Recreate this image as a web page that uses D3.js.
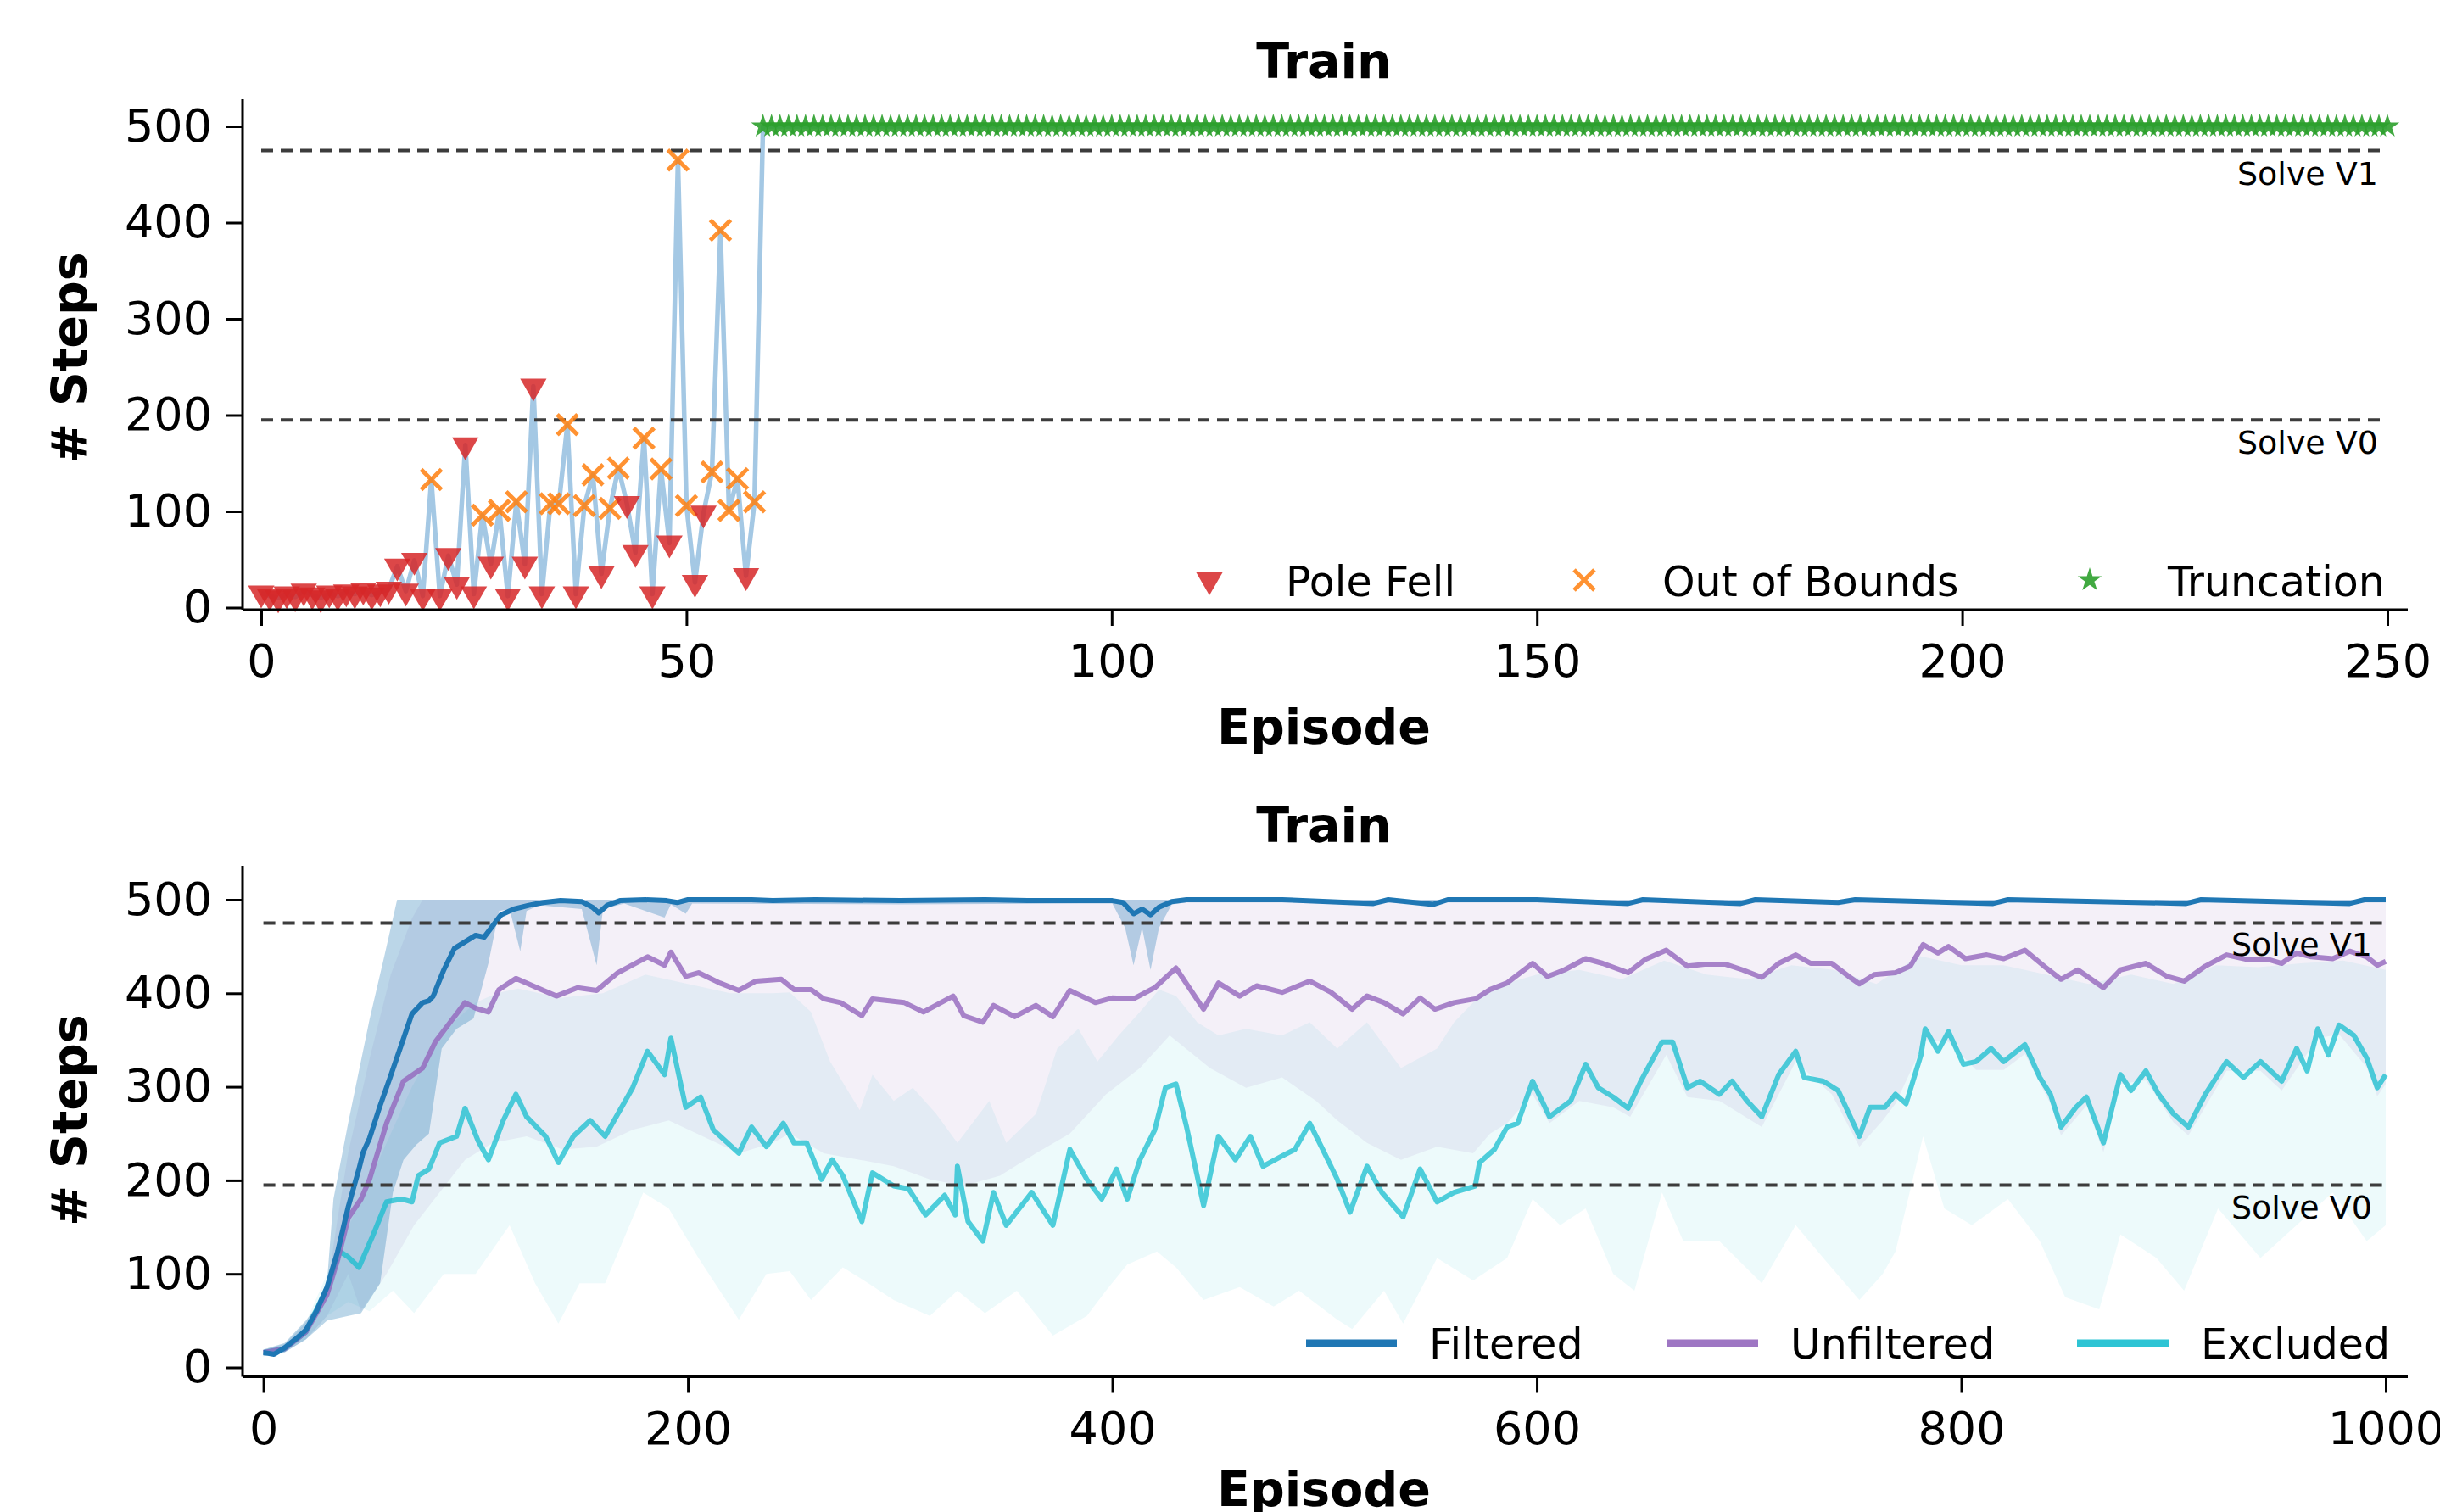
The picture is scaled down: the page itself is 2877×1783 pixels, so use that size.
<!DOCTYPE html>
<html>
<head>
<meta charset="utf-8">
<script src="https://cdn.jsdelivr.net/npm/d3@7"></script>
<style>
  body { margin: 0; background: #fff; }
  svg { display: block; }
  text { font-family: "DejaVu Sans", sans-serif; fill: #000; }
</style>
</head>
<body>
<svg id="chart" width="2877" height="1783"></svg>
<script>
// ---- top panel: one training run, steps per episode ----
var earlySteps = [15,12,10,14,11,17,13,10,15,12,16,14,18,13,16,19,
  43,17,49,12,133,12,54,24,169,14,96,45,101,12,110,45,230,14,108,108,190,14,106,138,
  35,103,145,108,57,176,14,144,67,465,106,26,98,141,392,101,134,33,110];
// P = pole fell, O = out of bounds
var earlyOutcome = ("PPPPPPPPPPPPPPPP" + "PPPP" + "OPPPPPOPOP" + "OPPPOOOPOO" +
  "POOPPOPOPO" + "OPPOOOOPO").split("");
var truncFirst = 59, lastEpisode = 250, truncSteps = 500;

var solveLines = [{v: 475, label: "Solve V1"}, {v: 195, label: "Solve V0"}];
var topXTicks = [0, 50, 100, 150, 200, 250];
var yTicks = [0, 100, 200, 300, 400, 500];
var botXTicks = [0, 200, 400, 600, 800, 1000];

// ---- bottom panel: [episode, steps] ----
var filteredMean = [[0,16],[5,14],[10,21],[15,30],[20,40],[25,60],[30,86],[35,124],[40,172],[45,212],[47,230],[50,245],[55,280],[60,312],[65,345],[70,378],[75,390],[78,392],[80,397],[85,425],[90,448],[95,455],[100,462],[104,460],[108,472],[112,484],[118,490],[125,494],[132,497],[140,499],[150,498],[155,492],[158,486],[162,494],[168,499],[180,500],[190,499],[195,497],[200,500],[230,500],[240,499],[260,500],[300,499],[340,500],[360,499],[400,499],[405,497],[410,485],[414,490],[418,484],[422,492],[428,498],[435,500],[480,500],[523,496],[530,500],[551,495],[558,500],[600,500],[643,496],[650,500],[696,496],[703,500],[742,497],[750,500],[815,496],[822,500],[906,496],[913,500],[983,496],[990,500],[1000,500]];
var filteredLow = [[0,12],[10,16],[20,30],[30,50],[40,55],[46,58],[55,90],[61,187],[66,222],[72,238],[78,250],[84,341],[91,362],[99,373],[106,432],[111,488],[116,490],[121,445],[124,488],[130,494],[150,490],[157,430],[160,490],[170,496],[189,481],[192,495],[199,485],[202,496],[300,495],[400,496],[406,470],[410,430],[414,470],[418,425],[422,470],[428,495],[435,497],[1000,497]];
var filteredHigh = [[0,19],[10,26],[20,50],[25,65],[30,92],[33,180],[40,262],[50,372],[57,440],[63,500],[1000,500]];

var unfilteredMean = [[0,16],[10,20],[20,38],[30,78],[35,115],[40,160],[46,180],[50,201],[58,261],[66,306],[75,320],[81,348],[88,369],[95,390],[100,384],[106,380],[111,404],[119,416],[129,406],[138,397],[148,406],[157,403],[167,422],[181,439],[189,430],[192,444],[199,418],[205,422],[215,411],[224,403],[232,413],[244,415],[250,404],[258,404],[264,394],[272,390],[282,376],[287,394],[302,390],[311,380],[325,397],[330,376],[339,369],[344,387],[354,375],[364,387],[372,375],[380,403],[392,390],[400,395],[410,394],[420,406],[430,427],[443,383],[450,411],[460,397],[468,408],[480,401],[493,413],[503,401],[513,383],[520,397],[528,390],[537,378],[545,395],[552,383],[561,390],[571,394],[578,404],[586,411],[598,432],[605,418],[613,425],[623,437],[631,432],[643,422],[651,436],[661,446],[671,429],[679,431],[689,431],[697,425],[706,417],[714,432],[722,441],[729,432],[739,432],[747,418],[752,410],[759,420],[769,422],[776,429],[782,452],[789,443],[794,450],[802,437],[812,441],[820,437],[830,446],[839,429],[847,415],[855,425],[867,406],[875,425],[887,432],[897,418],[905,413],[915,429],[925,441],[935,436],[945,436],[951,432],[958,443],[965,439],[975,437],[983,445],[991,439],[996,430],[1000,434]];
var unfilteredLow = [[0,12],[10,16],[20,30],[30,55],[40,100],[46,60],[58,100],[71,152],[83,187],[95,222],[108,240],[124,247],[141,233],[157,236],[174,254],[191,264],[207,247],[224,229],[240,240],[248,250],[264,229],[281,222],[297,215],[314,201],[330,194],[347,205],[364,229],[380,250],[397,292],[413,320],[427,355],[446,320],[463,299],[480,310],[496,285],[506,264],[520,240],[536,222],[553,236],[570,229],[578,250],[586,261],[598,292],[606,261],[620,285],[636,278],[644,268],[661,334],[671,289],[686,285],[706,257],[722,327],[739,292],[752,236],[763,264],[769,282],[783,350],[794,348],[807,318],[820,318],[830,335],[842,282],[847,248],[859,280],[867,230],[875,303],[887,307],[900,262],[907,248],[925,317],[941,317],[951,296],[968,352],[978,356],[991,321],[996,290],[1000,303]];
var unfilteredHigh = [[0,19],[10,25],[20,48],[30,85],[35,160],[40,230],[50,330],[60,420],[70,480],[75,500],[1000,500]];

var excludedMean = [[0,16],[10,20],[20,38],[30,85],[36,124],[40,118],[45,107],[51,138],[58,177],[65,180],[70,177],[73,205],[78,212],[83,240],[91,247],[95,277],[101,243],[106,222],[113,264],[119,292],[124,268],[133,247],[139,219],[146,247],[154,264],[161,247],[167,271],[174,299],[181,338],[189,313],[192,352],[199,278],[206,289],[212,254],[224,229],[230,257],[237,236],[245,261],[250,240],[256,240],[263,201],[268,222],[273,205],[282,156],[287,208],[297,194],[304,191],[312,163],[321,184],[326,163],[327,215],[332,156],[339,135],[344,187],[350,152],[362,187],[372,152],[380,233],[388,201],[395,180],[402,212],[407,180],[413,222],[420,254],[425,299],[430,303],[435,257],[443,173],[450,247],[458,222],[465,247],[471,215],[480,226],[486,233],[493,261],[500,229],[506,201],[512,166],[520,215],[527,187],[537,161],[545,212],[553,177],[561,187],[571,194],[573,219],[580,233],[586,257],[591,261],[598,306],[606,268],[616,285],[623,324],[629,299],[636,289],[643,277],[649,306],[659,348],[664,348],[671,299],[677,306],[686,292],[692,306],[699,285],[706,268],[714,313],[722,338],[726,310],[735,306],[742,296],[752,247],[757,278],[764,278],[769,292],[774,282],[781,334],[783,362],[789,338],[794,359],[801,324],[807,327],[814,341],[820,327],[830,345],[837,310],[842,292],[847,257],[854,278],[859,289],[867,240],[875,313],[880,296],[887,317],[893,292],[900,271],[907,257],[915,292],[925,327],[933,310],[941,327],[951,306],[958,341],[963,317],[968,362],[973,334],[978,366],[985,355],[991,331],[996,299],[1000,313]];
var excludedLow = [[0,12],[10,16],[20,30],[30,55],[40,70],[50,60],[61,82],[71,58],[85,100],[100,100],[116,152],[128,90],[139,47],[149,90],[161,90],[179,187],[191,170],[205,117],[224,51],[237,100],[248,103],[258,72],[273,107],[285,90],[297,72],[314,55],[327,82],[340,58],[355,82],[372,34],[388,55],[397,82],[407,110],[421,124],[430,107],[443,72],[460,86],[476,65],[488,82],[506,51],[513,41],[528,82],[537,47],[553,117],[570,93],[586,117],[598,180],[611,152],[623,170],[636,100],[646,82],[659,187],[669,135],[686,135],[706,90],[722,152],[735,117],[752,72],[763,100],[769,124],[782,247],[792,170],[805,152],[822,180],[837,135],[849,75],[865,62],[875,142],[892,117],[905,82],[921,170],[941,117],[958,152],[975,187],[991,135],[1000,152]];
var excludedHigh = [[0,19],[10,25],[20,48],[30,100],[40,150],[50,200],[60,250],[70,300],[80,340],[90,370],[100,390],[110,400],[120,405],[140,395],[160,400],[180,420],[200,410],[220,400],[240,400],[248,401],[258,380],[267,327],[281,275],[287,313],[297,285],[306,299],[317,271],[327,240],[342,285],[350,240],[364,271],[374,341],[384,362],[393,327],[403,355],[413,380],[422,404],[430,397],[440,369],[450,355],[463,362],[480,355],[493,369],[506,341],[520,369],[536,320],[553,341],[561,369],[573,397],[586,411],[600,420],[620,425],[640,415],[660,435],[680,420],[700,415],[720,430],[740,425],[760,410],[780,440],[800,430],[820,430],[840,420],[860,410],[880,420],[900,410],[920,430],[940,428],[960,432],[980,435],[1000,425]];

var series = [
  {name: "Filtered",   color: "#1f77b4", mean: filteredMean,   lo: filteredLow,   hi: filteredHigh,   fill: 0.3,  op: 1.0},
  {name: "Unfiltered", color: "#9467bd", mean: unfilteredMean, lo: unfilteredLow, hi: unfilteredHigh, fill: 0.1,  op: 0.8},
  {name: "Excluded",   color: "#17becf", mean: excludedMean,   lo: excludedLow,   hi: excludedHigh,   fill: 0.08, op: 0.75}
];

var svg = d3.select("#chart");
var tickFont = 54, labelFont = 57, legendFont = 49, noteFont = 38;

// shared axis/frame drawing
function frame(g, x, y, xTicks, spineLeft, spineTop, spineBottom, spineRight) {
  g.append("line").attr("x1", spineLeft).attr("x2", spineLeft)
    .attr("y1", spineTop).attr("y2", spineBottom)
    .attr("stroke", "#000").attr("stroke-width", 3);
  g.append("line").attr("x1", spineLeft).attr("x2", spineRight)
    .attr("y1", spineBottom).attr("y2", spineBottom)
    .attr("stroke", "#000").attr("stroke-width", 3);

  var ya = g.append("g").attr("transform", "translate(" + spineLeft + ",0)")
    .call(d3.axisLeft(y).tickValues(yTicks).tickFormat(d3.format("d")).tickSize(19).tickPadding(17));
  var xa = g.append("g").attr("transform", "translate(0," + spineBottom + ")")
    .call(d3.axisBottom(x).tickValues(xTicks).tickFormat(d3.format("d")).tickSize(19).tickPadding(22));
  [ya, xa].forEach(function(a) {
    a.select(".domain").remove();
    a.selectAll("line").attr("stroke", "#000").attr("stroke-width", 3);
    a.selectAll("text").attr("font-size", tickFont).attr("font-family", "DejaVu Sans").attr("fill", "#000");
  });
}

function solveMarks(g, x, y, x0, x1, labelX, offsets) {
  solveLines.forEach(function(s, i) {
    g.append("line")
      .attr("x1", x(x0)).attr("x2", x(x1))
      .attr("y1", y(s.v)).attr("y2", y(s.v))
      .attr("stroke", "#3c3c3c").attr("stroke-width", 4)
      .attr("stroke-dasharray", "14,9");
    g.append("text")
      .attr("x", labelX).attr("y", y(s.v) + offsets[i])
      .attr("text-anchor", "end").attr("font-size", noteFont)
      .attr("fill", "#111").text(s.label);
  });
}

// ================= top panel =================
var xT = d3.scaleLinear().domain([0, 250]).range([308, 2815]);
var yT = d3.scaleLinear().domain([0, 500]).range([716.5, 149]);
var topG = svg.append("g");

var runPoints = earlySteps.map(function(v, i) { return {ep: i, steps: v, kind: earlyOutcome[i]}; })
  .concat(d3.range(truncFirst, lastEpisode + 1).map(function(e) { return {ep: e, steps: truncSteps, kind: "T"}; }));

topG.append("path")
  .datum(runPoints)
  .attr("fill", "none").attr("stroke", "#a4c8e4").attr("stroke-width", 5.5)
  .attr("stroke-linejoin", "round")
  .attr("d", d3.line().x(function(d) { return xT(d.ep); }).y(function(d) { return yT(d.steps); }));

solveMarks(topG, xT, yT, 0, 250, 2804, [41, 40]);

var triPath = d3.symbol().type(d3.symbolTriangle).size(420)();
var starPath = d3.symbol().type(d3.symbolStar).size(250)();
var xPath = "M-12,-12L12,12M-12,12L12,-12";

function drawMarker(g, kind, cx, cy) {
  if (kind === "P") {
    g.append("path").attr("d", triPath)
      .attr("transform", "translate(" + cx + "," + cy + ") rotate(180)")
      .attr("fill", "#d62728").attr("fill-opacity", 0.85);
  } else if (kind === "O") {
    g.append("path").attr("d", xPath)
      .attr("transform", "translate(" + cx + "," + cy + ")")
      .attr("fill", "none").attr("stroke", "#ff7f0e").attr("stroke-width", 5).attr("stroke-opacity", 0.85);
  } else {
    g.append("path").attr("d", starPath)
      .attr("transform", "translate(" + cx + "," + cy + ")")
      .attr("fill", "#2ca02c").attr("fill-opacity", 0.9);
  }
}

var markerG = topG.append("g");
runPoints.forEach(function(d) { drawMarker(markerG, d.kind, xT(d.ep), yT(d.steps)); });

frame(topG, xT, yT, topXTicks, 286, 117, 719, 2839);

topG.append("text").attr("x", 1561).attr("y", 92).attr("text-anchor", "middle")
  .attr("font-size", labelFont).attr("font-weight", "bold").text("Train");
topG.append("text").attr("x", 1561).attr("y", 877).attr("text-anchor", "middle")
  .attr("font-size", labelFont).attr("font-weight", "bold").text("Episode");
topG.append("text").attr("transform", "translate(102,422) rotate(-90)").attr("text-anchor", "middle")
  .attr("font-size", labelFont).attr("font-weight", "bold").text("# Steps");

var topLegend = [{kind: "P", label: "Pole Fell", mx: 1426, tx: 1516},
                 {kind: "O", label: "Out of Bounds", mx: 1868, tx: 1960},
                 {kind: "T", label: "Truncation", mx: 2464, tx: 2556}];
topLegend.forEach(function(l) {
  drawMarker(topG, l.kind, l.mx, 684);
  topG.append("text").attr("x", l.tx).attr("y", 703).attr("font-size", legendFont).text(l.label);
});

// ================= bottom panel =================
var xB = d3.scaleLinear().domain([0, 1000]).range([310.6, 2813]);
var yB = d3.scaleLinear().domain([0, 500]).range([1612.5, 1061]);
var botG = svg.append("g");

var bandLine = d3.line();
series.slice().reverse().forEach(function(s) {
  var pts = s.hi.map(function(d) { return [xB(d[0]), yB(d[1])]; })
    .concat(s.lo.slice().reverse().map(function(d) { return [xB(d[0]), yB(d[1])]; }));
  botG.append("path").attr("d", bandLine(pts) + "Z")
    .attr("fill", s.color).attr("fill-opacity", s.fill).attr("stroke", "none");
});

var meanLine = d3.line().x(function(d) { return xB(d[0]); }).y(function(d) { return yB(d[1]); });
series.slice().reverse().forEach(function(s) {
  botG.append("path").datum(s.mean).attr("d", meanLine)
    .attr("fill", "none").attr("stroke", s.color).attr("stroke-opacity", s.op)
    .attr("stroke-width", 6).attr("stroke-linejoin", "round");
});

solveMarks(botG, xB, yB, 0, 1000, 2797, [38, 40]);

frame(botG, xB, yB, botXTicks, 286, 1021, 1623.5, 2839);

botG.append("text").attr("x", 1561).attr("y", 993).attr("text-anchor", "middle")
  .attr("font-size", labelFont).attr("font-weight", "bold").text("Train");
botG.append("text").attr("x", 1561).attr("y", 1776).attr("text-anchor", "middle")
  .attr("font-size", labelFont).attr("font-weight", "bold").text("Episode");
botG.append("text").attr("transform", "translate(102,1321) rotate(-90)").attr("text-anchor", "middle")
  .attr("font-size", labelFont).attr("font-weight", "bold").text("# Steps");

var botLegendX = [{x1: 1540, x2: 1647, tx: 1685}, {x1: 1965, x2: 2073, tx: 2111}, {x1: 2449, x2: 2557, tx: 2595}];
series.forEach(function(s, i) {
  var p = botLegendX[i];
  botG.append("line").attr("x1", p.x1).attr("x2", p.x2).attr("y1", 1584).attr("y2", 1584)
    .attr("stroke", s.color).attr("stroke-opacity", s.op === 1 ? 1 : 0.9).attr("stroke-width", 9);
  botG.append("text").attr("x", p.tx).attr("y", 1602).attr("font-size", legendFont).text(s.name);
});
</script>
</body>
</html>
